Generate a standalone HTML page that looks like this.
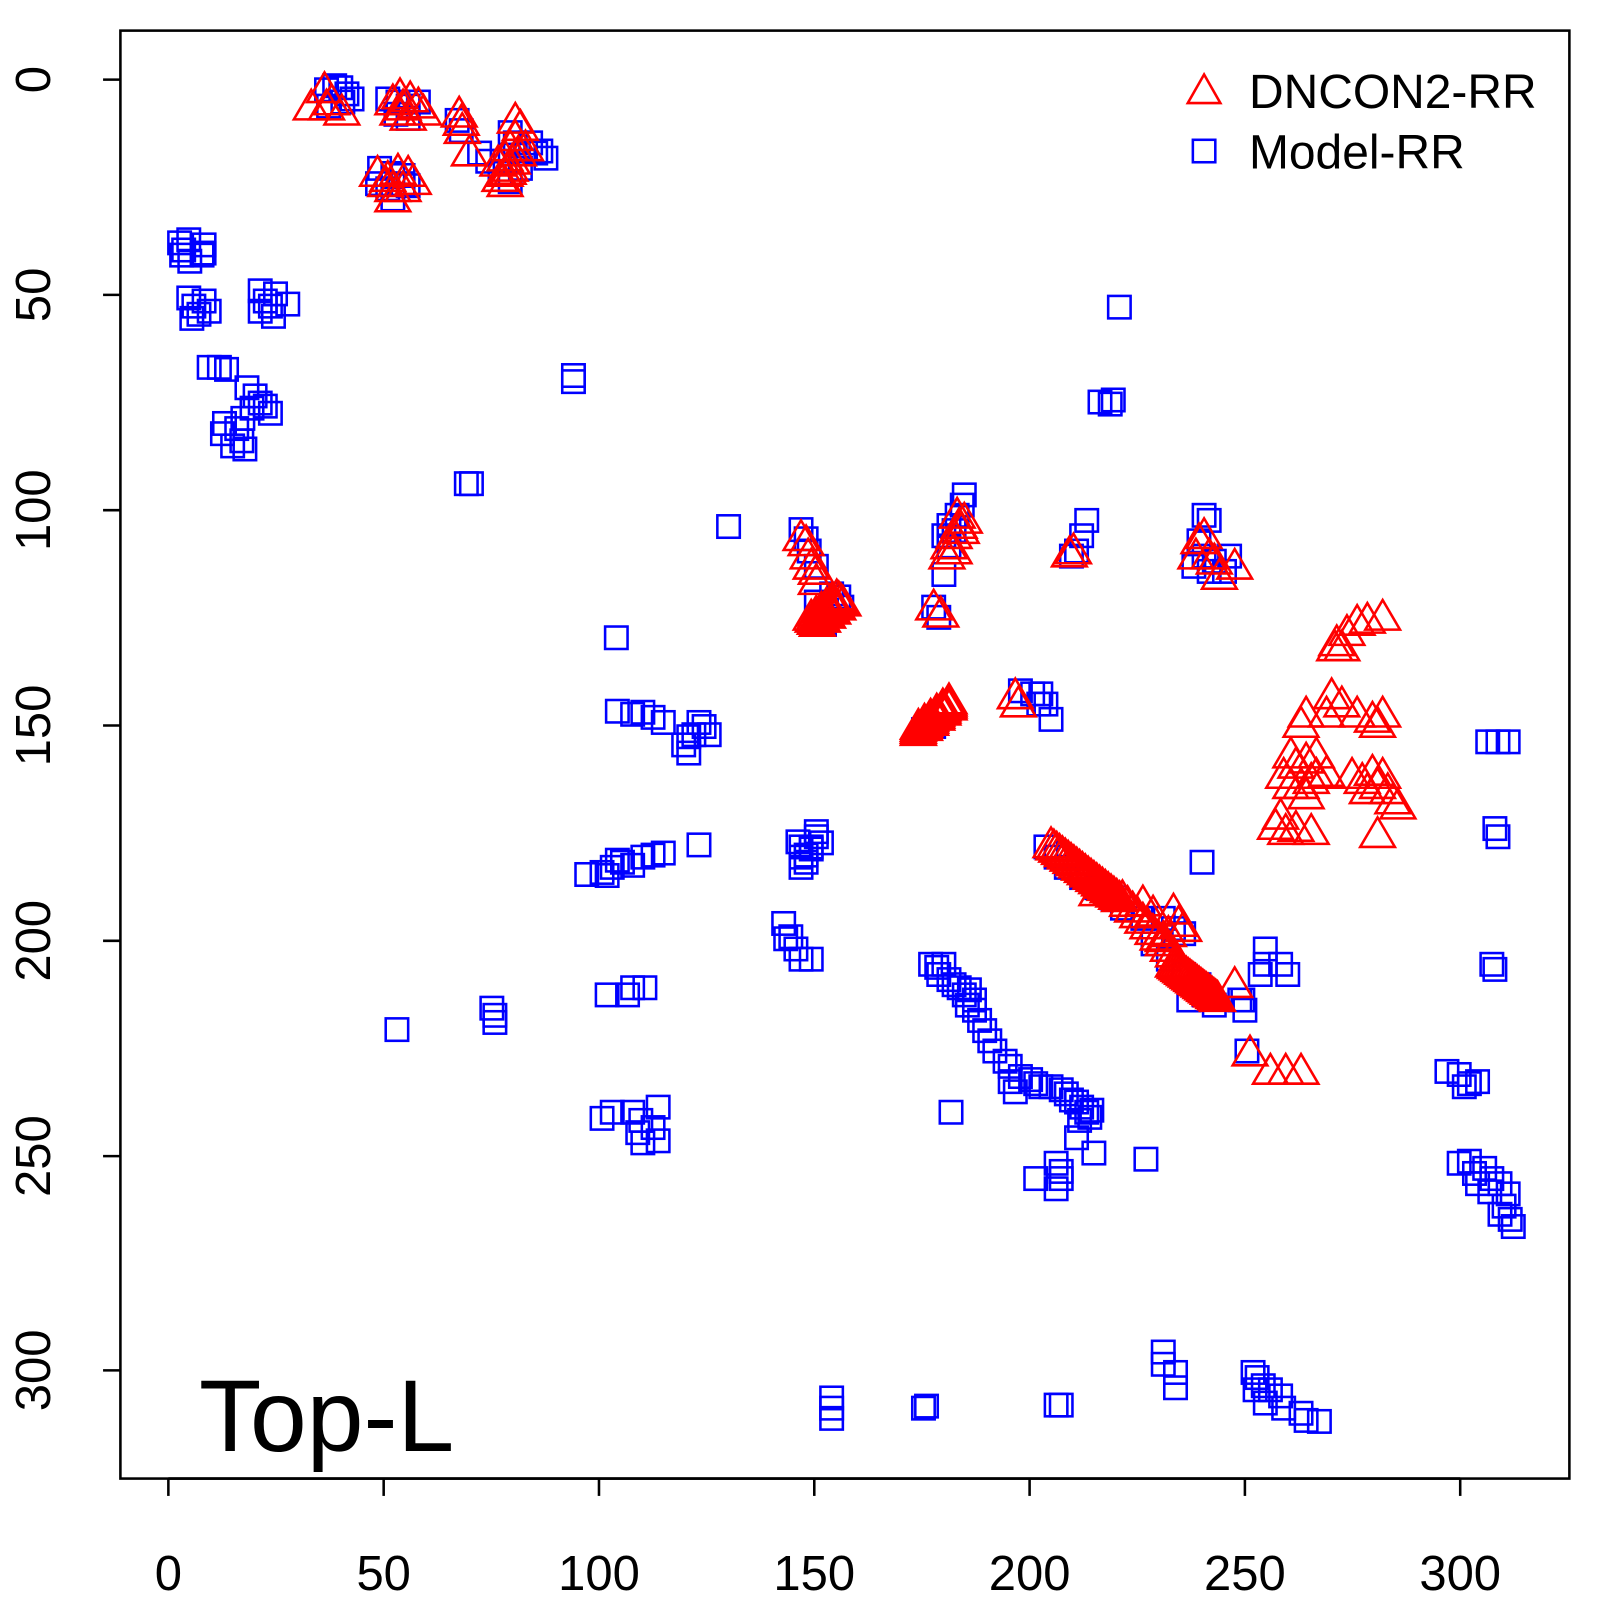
<!DOCTYPE html>
<html><head><meta charset="utf-8"><style>html,body{margin:0;padding:0;background:#fff}svg{display:block}</style></head>
<body>
<svg id="s" xmlns="http://www.w3.org/2000/svg" width="1600" height="1600" viewBox="0 0 1568 1568" font-family="Liberation Sans, Arial, sans-serif">
<rect x="0" y="0" width="1568" height="1568" fill="#fff"/>
<g id="pts"></g>
<rect x="118" y="30" width="1420" height="1419" fill="none" stroke="#000" stroke-width="2.5"/>
<g stroke="#000" stroke-width="2.5">
<line x1="165" y1="1449" x2="1431" y2="1449"/>
<line x1="165" y1="1449" x2="165" y2="1466"/><line x1="376" y1="1449" x2="376" y2="1466"/><line x1="587" y1="1449" x2="587" y2="1466"/><line x1="798" y1="1449" x2="798" y2="1466"/><line x1="1009" y1="1449" x2="1009" y2="1466"/><line x1="1220" y1="1449" x2="1220" y2="1466"/><line x1="1431" y1="1449" x2="1431" y2="1466"/>
<line x1="101" y1="78" x2="118" y2="78"/><line x1="101" y1="289" x2="118" y2="289"/><line x1="101" y1="500" x2="118" y2="500"/><line x1="101" y1="711" x2="118" y2="711"/><line x1="101" y1="922" x2="118" y2="922"/><line x1="101" y1="1133" x2="118" y2="1133"/><line x1="101" y1="1343" x2="118" y2="1343"/>
</g>
<g font-size="48" text-anchor="middle" fill="#000">
<text x="165" y="1558">0</text><text x="376" y="1558">50</text><text x="587" y="1558">100</text><text x="798" y="1558">150</text><text x="1009" y="1558">200</text><text x="1220" y="1558">250</text><text x="1431" y="1558">300</text>
<text transform="translate(49,78) rotate(-90)">0</text>
<text transform="translate(49,289) rotate(-90)">50</text>
<text transform="translate(49,500) rotate(-90)">100</text>
<text transform="translate(49,711) rotate(-90)">150</text>
<text transform="translate(49,922) rotate(-90)">200</text>
<text transform="translate(49,1133) rotate(-90)">250</text>
<text transform="translate(49,1343) rotate(-90)">300</text>
</g>
<polygon points="1164,101 1196,101 1180,73" fill="none" stroke="#f00" stroke-width="2.5"/>
<rect x="1169" y="137" width="22" height="22" fill="none" stroke="#00f" stroke-width="2.5"/>
<text x="1224" y="106" font-size="47">DNCON2-RR</text>
<text x="1224" y="165" font-size="47">Model-RR</text>
<text x="195" y="1422" font-size="100">Top-L</text>
</svg>
<script>
var sq=[[320,88],[328,84],[334,86],[340,92],[336,100],[322,104],[345,97],[380,97],[390,100],[400,104],[410,100],[388,112],[400,116],[448,118],[452,128],[470,150],[478,158],[500,130],[505,140],[515,148],[520,140],[530,148],[535,155],[495,158],[510,165],[490,170],[500,178],[525,150],
[372,165],[385,170],[395,172],[380,185],[395,180],[385,195],[370,180],[400,182],
[176,238],[180,245],[185,235],[200,240],[198,250],[178,250],[186,256],[200,248],
[185,292],[190,300],[195,308],[200,295],[205,305],[188,312],
[255,285],[260,295],[265,300],[270,288],[282,298],[255,305],[268,310],
[205,360],[215,360],[222,362],
[242,380],[250,388],[247,400],[255,395],[265,405],[238,410],[220,415],[232,420],[237,432],[228,437],[240,440],[218,425],[260,398],
[562,368],[562,374],[457,474],[462,474],[714,516],[1097,301],[1078,394],[1088,396],[1091,392],
[785,519],[790,528],[793,540],[800,555],[800,590],[810,598],[805,605],[822,585],[825,595],[815,582],[800,610],[808,612],
[945,485],[943,495],[938,505],[930,515],[925,525],[935,520],[930,535],[925,563],[915,595],[920,605],
[1065,510],[1060,525],[1055,540],[1050,545],
[1180,505],[1185,510],[1175,530],[1180,545],[1170,555],[1190,550],[1205,545],[1200,560],[1185,560],
[1000,677],[1012,680],[1020,680],[1025,690],[1030,705],[1018,690],[905,715],[915,712],
[1178,845],[1468,727],[1458,727],[1478,727],[1465,812],[1468,820],[1462,945],[1465,950],
[604,625],[605,697],[620,700],[630,698],[640,703],[650,708],
[670,730],[675,738],[680,720],[690,712],[695,720],[685,708],[675,722],[685,828],
[575,857],[590,855],[600,850],[610,845],[620,848],[630,840],[640,838],[650,836],[605,843],[595,858],
[785,830],[785,840],[790,838],[795,832],[800,820],[805,826],[790,845],[785,850],[795,830],[800,815],[782,825],
[768,905],[770,920],[775,918],[780,930],[785,940],[795,940],
[595,975],[615,975],[620,968],[632,968],[482,988],[485,995],[485,1002],[389,1009],
[590,1096],[600,1090],[620,1090],[628,1098],[625,1110],[640,1105],[645,1085],[645,1118],[630,1120],
[912,945],[918,948],[920,955],[925,945],[930,960],[935,965],[940,968],[945,975],[950,970],[955,980],[948,985],[955,990],[960,1000],[965,1010],[970,1020],[975,1030],[985,1040],[990,1045],[990,1060],[1000,1055],[995,1070],[1010,1058],[1015,1062],[1020,1065],[1030,1065],[1040,1068],[1045,1072],[1050,1078],[1055,1080],[1060,1085],[1065,1090],[1070,1088],[1068,1095],[1058,1098],[1055,1115],[1072,1130],[1035,1140],[1040,1148],[1015,1155],[1035,1165],[1040,1155],[932,1090],[1123,1136],
[1025,830],[1035,840],[1045,850],[1060,860],[1075,870],[1090,880],[1100,890],[1120,900],[1140,900],[1150,910],[1160,915],[1130,925],[1145,940],[1160,955],[1175,965],[1180,975],[1165,980],[1190,985],[1215,980],[1220,990],
[1240,945],[1240,930],[1235,955],[1255,945],[1262,955],[1222,1030],[1218,980],
[1418,1050],[1430,1053],[1440,1062],[1448,1060],[1435,1065],[1430,1140],[1440,1138],[1445,1150],[1455,1145],[1462,1155],[1448,1160],[1470,1160],[1478,1170],[1474,1182],[1480,1195],[1483,1202],[1460,1168],[1470,1190],
[815,1370],[815,1380],[815,1390],[905,1380],[908,1378],[1035,1377],[1040,1377],[1140,1325],[1140,1337],[1152,1345],[1152,1360],[1228,1345],[1232,1350],[1238,1358],[1245,1362],[1240,1375],[1255,1368],[1258,1380],[1275,1385],[1280,1392],[1293,1393],[1230,1362]];
var tr=[[305,105],[318,88],[320,105],[335,110],[325,100],[385,100],[395,105],[402,97],[410,103],[415,110],[390,110],[400,115],[392,94],[450,112],[452,120],[460,150],[453,128],
[490,175],[500,165],[495,155],[500,145],[505,135],[510,125],[505,118],[515,145],[495,170],[488,160],[495,180],[502,158],[508,150],[498,168],
[370,170],[380,175],[390,168],[400,170],[405,178],[385,185],[378,180],[395,185],[385,195],
[785,527],[790,532],[792,545],[795,555],[800,560],[800,570],
[915,595],[922,602],[930,535],[935,525],[940,515],[945,510],[938,505],[935,540],[928,545],[942,520],
[1052,540],[1048,543],[1175,530],[1180,525],[1172,545],[1185,545],[1195,565],[1210,555],[1190,550],
[995,682],[998,690],
[1305,682],[1300,700],[1315,690],[1280,700],[1275,710],[1265,740],[1258,760],[1270,750],[1280,745],[1290,740],[1275,770],[1285,765],[1265,770],[1290,760],[1300,758],[1280,780],[1255,800],[1250,810],[1260,815],[1270,812],[1285,815],[1330,700],[1345,705],[1355,700],[1350,710],[1325,760],[1335,765],[1345,757],[1355,760],[1340,775],[1350,770],[1360,775],[1365,785],[1370,790],[1350,818],[1310,630],[1320,620],[1330,610],[1340,608],[1355,605],[1315,635],[1308,635],
[1075,875],[1100,880],[1120,885],[1130,895],[1150,893],[1155,905],[1160,910],[1145,915],[1140,920],
[1210,965],[1225,1032],[1245,1050],[1260,1050],[1275,1050]];
for(var t=0;t<=1;t+=0.04){tr.push([1030+70*t,828+55*t]);tr.push([1150+45*t,945+35*t]);}
for(var t=0;t<=1;t+=0.1){tr.push([1100+50*t,880+55*t]);}
for(var i=0;i<6;i++)for(var j=0;j<4;j++){tr.push([795+i*5+j*2,605-i*4+j*2]);tr.push([900+i*6,712-i*5+j*2]);}
var g=document.getElementById('pts'),h='';
sq.forEach(function(p){h+='<rect x="'+(p[0]-11)+'" y="'+(p[1]-11)+'" width="22" height="22" fill="none" stroke="#00f" stroke-width="2.5"/>';});
tr.forEach(function(p){h+='<polygon points="'+(p[0]-17)+','+(p[1]+12)+' '+(p[0]+17)+','+(p[1]+12)+' '+p[0]+','+(p[1]-17)+'" fill="none" stroke="#f00" stroke-width="2.5"/>';});
g.innerHTML=h;
</script>
</body></html>
